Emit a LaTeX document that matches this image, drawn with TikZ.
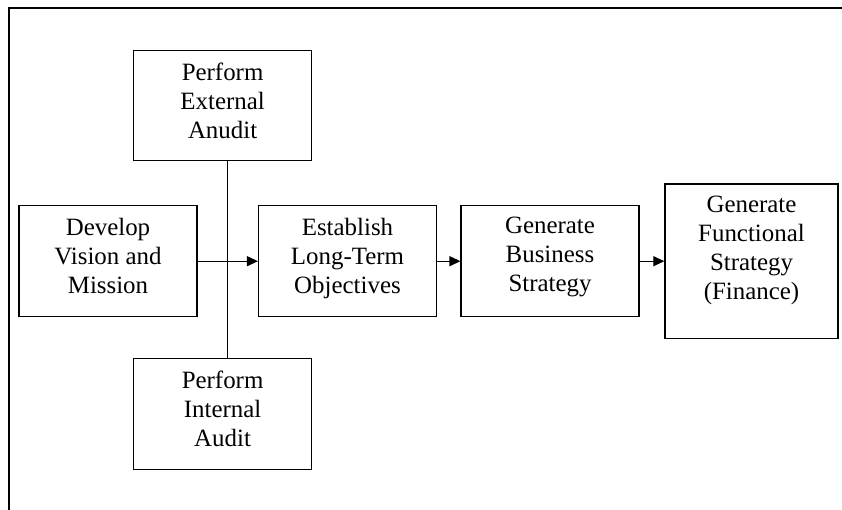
\documentclass[tikz,border=0pt]{standalone}
\usepackage{fontspec}
\setmainfont{Liberation Serif}
\usetikzlibrary{arrows.meta}
\begin{document}
\begin{tikzpicture}[x=1bp,y=-1bp,
  stepbox/.style={draw, line width=1.1bp, inner sep=0pt, align=center,
    text depth=10bp, font=\fontsize{25}{29}\selectfont},
  link/.style={line width=1.1bp},
  flow/.style={line width=1.1bp, -{Triangle[length=11bp,width=10bp]}}]
\useasboundingbox (0,0) rectangle (842,510);
% outer frame, open to the right and bottom
\draw[line width=1.1bp] (9,510) -- (9,8) -- (842,8);
% process boxes
\node[stepbox, minimum width=178bp, minimum height=110bp] (ext) at (222.6,105.8) {Perform\\External\\Anudit};
\node[stepbox, minimum width=178bp, minimum height=111bp] (dev) at (108,261.2) {Develop\\Vision and\\Mission};
\node[stepbox, minimum width=178bp, minimum height=111bp] (obj) at (347.5,261.2) {Establish\\Long-Term\\Objectives};
\node[stepbox, text depth=14bp, minimum width=178bp, minimum height=111bp] (bus) at (550,261.2) {Generate\\Business\\Strategy};
\node[stepbox, text depth=27bp, line width=1.4bp, minimum width=173bp, minimum height=154bp] (fun) at (751.5,261.2) {Generate\\Functional\\Strategy\\(Finance)};
\node[stepbox, minimum width=178bp, minimum height=111bp] (int) at (222.6,413.6) {Perform\\Internal\\Audit};
% audits feed the junction on the main line
\coordinate (j) at (227.3,261.2);
\draw[link] (ext.south -| j) -- (int.north -| j);
\draw[link] (dev.east) -- (j);
\draw[flow] (j) -- (obj.west);
\draw[flow] (obj.east) -- (bus.west);
\draw[flow] (bus.east) -- (fun.west);
\end{tikzpicture}
\end{document}
